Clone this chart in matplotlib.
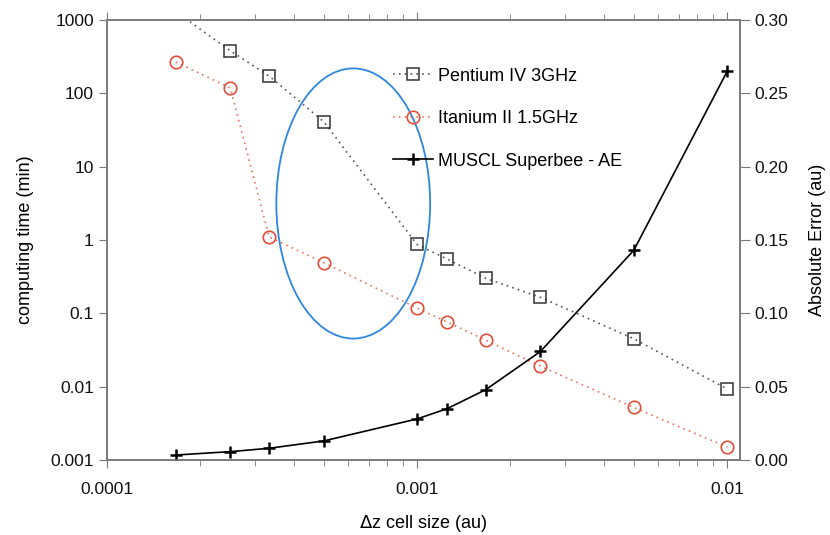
import matplotlib
matplotlib.use("Agg")
import matplotlib.pyplot as plt
import numpy as np
from matplotlib.patches import Ellipse
from matplotlib.ticker import FixedLocator, FuncFormatter, LogLocator, NullLocator

# cell sizes (au)
dz = [1/6000, 1/4000, 1/3000, 1/2000, 1/1000, 1/800, 1/600, 1/400, 1/200, 1/100]
# computing time (min)
pentium = [1300, 380, 172, 41, 0.87, 0.55, 0.30, 0.165, 0.045, 0.0093]
itanium = [268, 118, 1.1, 0.49, 0.118, 0.076, 0.043, 0.019, 0.0052, 0.0015]
# absolute error (au)
abs_err = [0.0034, 0.0057, 0.008, 0.013, 0.028, 0.035, 0.048, 0.074, 0.143, 0.265]

ytick_vals = [0.001, 0.01, 0.1, 1, 10, 100, 1000]
ytick_labels = ["0.001", "0.01", "0.1", "1", "10", "100", "1000"]
xtick_vals = [0.0001, 0.001, 0.01]
xtick_labels = ["0.0001", "0.001", "0.01"]
err_ticks = [0.0, 0.05, 0.10, 0.15, 0.20, 0.25, 0.30]

plt.rcParams['font.family'] = ['Liberation Sans', 'DejaVu Sans']
spine_col = '#7a7a7a'

fig = plt.figure(figsize=(8.3, 5.35), dpi=100)
ax = fig.add_axes([107/830, 75/535, 633/830, 440/535])
ax2 = ax.twinx()

l1, = ax.plot(dz, pentium, linestyle=(0, (1, 2.5)), color='#555555', lw=1.2,
              marker='s', ms=8, mfc='none', mec='#333333', mew=1.1,
              label='Pentium IV 3GHz')
l2, = ax.plot(dz, itanium, linestyle=(0, (1, 2.5)), color='#e8735f', lw=1.2,
              marker='o', ms=9, mfc='none', mec='#e0503a', mew=1.2,
              label='Itanium II 1.5GHz')
l3, = ax2.plot(dz, abs_err, '-', color='black', lw=1.2,
               marker='+', ms=9, mew=1.8, label='MUSCL Superbee - AE')

ax.set_xscale('log')
ax.set_yscale('log')
ax.set_xlim(1e-4, 0.011)
ax.set_ylim(0.001, 1000)
ax2.set_ylim(0, 0.30)

ax.xaxis.set_major_locator(FixedLocator(xtick_vals))
ax.xaxis.set_minor_locator(LogLocator(base=10, subs=np.arange(2, 10)))
ax.xaxis.set_minor_formatter(FuncFormatter(lambda v, p: ""))
ax.set_xticklabels(xtick_labels)
ax.yaxis.set_major_locator(FixedLocator(ytick_vals))
ax.yaxis.set_minor_locator(NullLocator())
ax.set_yticklabels(ytick_labels)
ax2.set_yticks(err_ticks)
ax2.set_yticklabels(["%.2f" % v for v in err_ticks])

ax.xaxis.set_ticks_position('both')
ax.tick_params(axis='x', which='both', direction='out',
               colors=spine_col, labelcolor='#111111', labelsize=12.5)
ax.tick_params(axis='x', which='major', length=6, pad=10)
ax.tick_params(axis='x', which='minor', length=4)
ax.tick_params(axis='y', which='major', length=6, colors=spine_col,
               labelcolor='#111111', labelsize=12.5)
ax2.tick_params(axis='y', which='major', length=7, colors=spine_col,
                labelcolor='#111111', labelsize=12.5)

for a in (ax, ax2):
    for s in a.spines.values():
        s.set_color(spine_col)
        s.set_linewidth(1.2)

ax.set_xlabel(r'$\Delta$z cell size (au)', fontsize=13, labelpad=11)
ax.set_ylabel('computing time (min)', fontsize=13, labelpad=12)
ax2.set_ylabel('Absolute Error (au)', fontsize=13, labelpad=15)

ell = Ellipse((0.389, 0.583), 0.243, 0.614, transform=ax.transAxes,
              fill=False, edgecolor='#2f86de', lw=1.3, zorder=5)
ax.add_patch(ell)

ax2.legend(handles=[l1, l2, l3], loc='upper left',
           bbox_to_anchor=(0.452, 0.892), frameon=False, fontsize=13,
           borderaxespad=0, borderpad=0,
           labelspacing=1.42, handlelength=2.2, handletextpad=0.3)

fig.savefig('out.png', dpi=100)
